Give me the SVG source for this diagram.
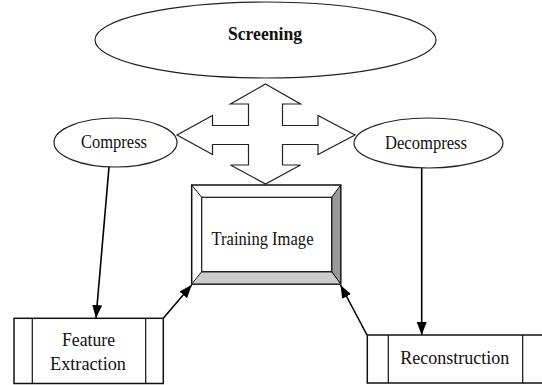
<svg xmlns="http://www.w3.org/2000/svg" width="542" height="385" viewBox="0 0 542 385">
<style>
.ell{fill:#fff;stroke:#222;stroke-width:1.2}
.box{fill:#fff;stroke:#111;stroke-width:1.5}
text{font-family:'Liberation Serif','DejaVu Serif','Times New Roman',serif;font-size:18px;fill:#111;text-anchor:middle}
.conn{stroke:#000;stroke-width:1.6;fill:none}
</style>
<defs>
<marker id="ah" markerUnits="userSpaceOnUse" markerWidth="14" markerHeight="12" refX="13" refY="5" orient="auto">
<path d="M0,0 L13,5 L0,10 Z" fill="#000"/>
</marker>
</defs>
<rect width="542" height="385" fill="#fff"/>
<g id="screening">
<ellipse class="ell" cx="265.5" cy="40" rx="170.5" ry="38"/>
<text x="265" y="40" font-family="Liberation Serif, serif" font-weight="bold" textLength="74" lengthAdjust="spacingAndGlyphs">Screening</text>
</g>
<g id="cross-arrow">
<polygon fill="#fff" stroke="#222" stroke-width="1.2" points="265.5,84 300.5,104 282.5,104 282.5,125.5 318,125.5 318,115.5 355,135 318,154.5 318,144.5 282.5,144.5 282.5,165 300.5,165 265.5,184 230.5,165 248.5,165 248.5,144.5 212.5,144.5 212.5,154.5 177,135 212.5,115.5 212.5,125.5 248.5,125.5 248.5,104 230.5,104"/>
</g>
<g id="compress">
<ellipse class="ell" cx="115.5" cy="142.5" rx="61.5" ry="24.5"/>
<text x="114" y="148" font-family="Liberation Serif, serif" textLength="66" lengthAdjust="spacingAndGlyphs">Compress</text>
</g>
<g id="decompress">
<ellipse class="ell" cx="428.5" cy="143" rx="74.5" ry="25"/>
<text x="426" y="149" font-family="Liberation Serif, serif" textLength="82" lengthAdjust="spacingAndGlyphs">Decompress</text>
</g>
<g id="training-image">
<rect x="191.7" y="185" width="149" height="99" fill="#fff" stroke="#111" stroke-width="1.5"/>
<polygon points="331.7,197.3 340.7,185 340.7,284 331.7,271.7" fill="#999" stroke="#111" stroke-width="1"/>
<polygon points="201.7,271.7 331.7,271.7 340.7,284 191.7,284" fill="#ccc" stroke="#111" stroke-width="1"/>
<line x1="191.7" y1="185" x2="201.7" y2="197.3" stroke="#111" stroke-width="1"/>
<rect x="201.7" y="197.3" width="130" height="74.4" fill="#fff" stroke="#111" stroke-width="1.2"/>
<text x="262.5" y="245" font-family="Liberation Serif, serif" textLength="102" lengthAdjust="spacingAndGlyphs">Training Image</text>
</g>
<g id="feature-extraction">
<rect class="box" x="14" y="318.3" width="149.3" height="65.2"/>
<line x1="32.3" y1="318.3" x2="32.3" y2="383.5" stroke="#111" stroke-width="1.2"/>
<line x1="145.7" y1="318.3" x2="145.7" y2="383.5" stroke="#111" stroke-width="1.2"/>
<text x="88.5" y="346" font-family="Liberation Serif, serif" textLength="53" lengthAdjust="spacingAndGlyphs">Feature</text>
<text x="88" y="370" font-family="Liberation Serif, serif" textLength="76" lengthAdjust="spacingAndGlyphs">Extraction</text>
</g>
<g id="reconstruction">
<rect class="box" x="367.3" y="335" width="190" height="48"/>
<line x1="388.3" y1="335" x2="388.3" y2="383" stroke="#111" stroke-width="1.2"/>
<line x1="522.7" y1="335" x2="522.7" y2="383" stroke="#111" stroke-width="1.2"/>
<text x="454.7" y="364" font-family="Liberation Serif, serif" textLength="109" lengthAdjust="spacingAndGlyphs">Reconstruction</text>
</g>
<g id="connectors">
<line class="conn" x1="109" y1="167" x2="96" y2="318" marker-end="url(#ah)"/>
<line class="conn" x1="421.7" y1="168" x2="421.7" y2="335" marker-end="url(#ah)"/>
<line class="conn" x1="163.5" y1="318" x2="191.7" y2="285" marker-end="url(#ah)"/>
<line class="conn" x1="367" y1="335" x2="340.5" y2="285" marker-end="url(#ah)"/>
</g>
</svg>
